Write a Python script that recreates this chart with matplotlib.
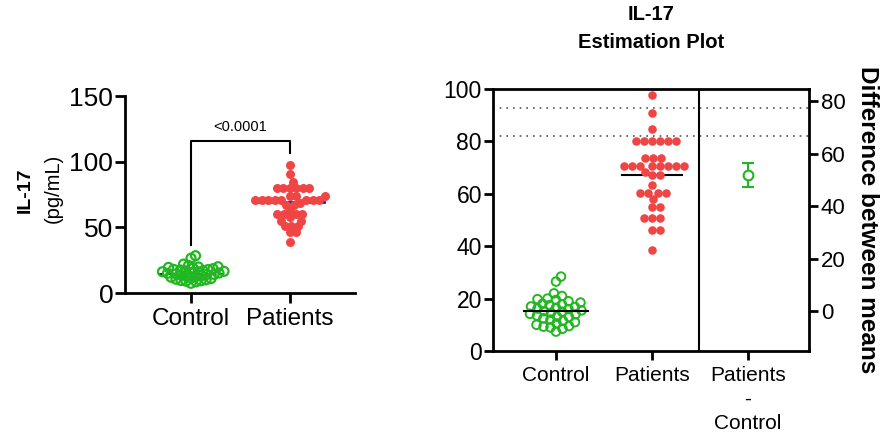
import numpy as np
import matplotlib
matplotlib.use("Agg")
import matplotlib.pyplot as plt

plt.rcParams['font.family'] = ['Liberation Sans', 'DejaVu Sans']

categories = ["Control", "Patients"]
diff_label = "Patients\n-\nControl"

control = [28.4, 26.5, 22.0, 21.0, 20.0, 19.8, 19.5, 19.0, 18.5, 18.0, 17.8,
           17.5, 17.0, 16.8, 16.5, 16.2, 16.0, 15.5, 15.2, 15.0, 14.6, 14.2,
           14.0, 13.5, 13.1, 13.0, 12.5, 12.0, 11.5, 11.0, 10.5, 10.0, 9.5,
           9.3, 9.0, 8.5, 7.4]
patients = [97.7, 90.7, 84.6, 80.3, 80.3, 80.3, 80.3, 80.3, 80.3, 73.5, 73.5,
            73.5, 70.6, 70.6, 70.6, 70.6, 70.6, 70.6, 70.6, 70.6, 68.5, 67.2,
            67.2, 63.4, 60.2, 60.2, 60.2, 60.2, 58.0, 55.1, 55.1, 50.9, 50.9,
            50.9, 46.2, 46.2, 38.5]

control_mean_line = 15.3
patients_mean_line = 67.3
left_blue_line = 69.5
diff_mean = 51.9
diff_ci = (47.3, 56.5)
ref_lines = [92.9, 82.2]
p_text = "<0.0001"

GREEN = "#22b722"
RED = "#f04545"

W, H = 888, 436
fig = plt.figure(figsize=(W / 100, H / 100), dpi=100)


def box(x0, y0, x1, y1):
    return [x0 / W, 1 - y1 / H, (x1 - x0) / W, (y1 - y0) / H]


def swarm(ax, xc, vals, coll):
    """Beeswarm offsets in pixel space, converted back to data coords."""
    vals = np.asarray(vals, float)
    order = np.argsort(vals)
    pix = ax.transData.transform(np.column_stack([np.full(len(vals), xc), vals]))
    cx = pix[0, 0]
    placed = []
    xs = np.zeros(len(vals))
    steps = np.arange(0.5, 200, 0.5)
    cand = np.concatenate([[0], np.ravel(np.column_stack([steps, -steps]))])
    for i in order:
        py = pix[i, 1]
        for off in cand:
            ok = True
            for (qx, qy) in placed:
                if (off - qx) ** 2 + (py - qy) ** 2 < coll ** 2:
                    ok = False
                    break
            if ok:
                break
        placed.append((off, py))
        xs[i] = off
    data = ax.transData.inverted().transform(np.column_stack([cx + xs, pix[:, 1]]))
    return data[:, 0], vals


# ---------------- Left panel ----------------
axL = fig.add_axes(box(125, 96, 355, 293))
axL.set_xlim(-0.667, 1.657)
axL.set_ylim(0, 150)
for s in ["top", "right"]:
    axL.spines[s].set_visible(False)
for s in ["left", "bottom"]:
    axL.spines[s].set_linewidth(2)
axL.set_yticks([0, 50, 100, 150])
axL.set_xticks([0, 1])
axL.set_xticklabels(categories)
axL.tick_params(axis="both", direction="out", length=7, width=2, labelsize=19, pad=1.5)
axL.tick_params(axis="x", labelsize=17.5, pad=4)

axL.plot([-0.32, 0.33], [control_mean_line - 0.8] * 2, color="black", lw=1.2,
         ls=(0, (3, 1.5)), zorder=1)
axL.plot([1 - 0.33, 1 + 0.34], [left_blue_line] * 2, color="#1020d0", lw=2, zorder=1)

xs, ys = swarm(axL, 0, control, 5.0)
axL.scatter(xs, ys, s=42, facecolors="none", edgecolors=GREEN, linewidths=1.6, zorder=3)
xs, ys = swarm(axL, 1, patients, 6.3)
axL.scatter(xs, ys, s=42, color=RED, linewidths=0, zorder=3)

axL.plot([0, 0, 1, 1], [36.6, 115.5, 115.5, 106.6], color="black", lw=1.5, clip_on=False)
axL.text(0.5, 121, p_text, ha="center", va="bottom", fontsize=10.5)

fig.text(25 / W, 1 - 190 / H, "IL-17", rotation=90, ha="center", va="center",
         fontsize=14, fontweight="bold")
fig.text(53 / W, 1 - 188 / H, "(pg/mL)", rotation=90, ha="center", va="center",
         fontsize=14.5)

# ---------------- Right panel ----------------
axR = fig.add_axes(box(493, 89, 809, 351))
axR.set_xlim(-0.656, 2.635)
axR.set_ylim(0, 100)
for s in axR.spines.values():
    s.set_linewidth(2)
axR.set_yticks([0, 20, 40, 60, 80, 100])
axR.set_xticks([0, 1, 2])
axR.set_xticklabels(categories + [diff_label], linespacing=1.35)
axR.tick_params(axis="both", direction="out", length=6.5, width=2, labelsize=16.5, pad=1.5)
axR.tick_params(axis="x", labelsize=15, pad=4)

axR.axvline(1.49, color="black", lw=1.5)
for v in ref_lines:
    axR.axhline(v, color="#555555", lw=1.2, ls=(0, (1, 3)), zorder=1)

axR.plot([-0.33, 0.33], [control_mean_line] * 2, color="black", lw=1.5, zorder=4)
axR.plot([1 - 0.31, 1 + 0.31], [patients_mean_line] * 2, color="black", lw=1.5, zorder=1)

xs, ys = swarm(axR, 0, control, 6.8)
axR.scatter(xs, ys, s=38, facecolors="none", edgecolors=GREEN, linewidths=1.4, zorder=3)
xs, ys = swarm(axR, 1, patients, 7.6)
axR.scatter(xs, ys, s=38, color=RED, linewidths=0, zorder=3)

axT = axR.twinx()
axT.set_ylim(-control_mean_line, 100 - control_mean_line)
axT.set_yticks([0, 20, 40, 60, 80])
axT.tick_params(axis="y", direction="out", length=6.5, width=2, labelsize=16, pad=2)
for s in axT.spines.values():
    s.set_visible(False)
axT.errorbar([2], [diff_mean],
             yerr=[[diff_mean - diff_ci[0]], [diff_ci[1] - diff_mean]],
             fmt="o", mfc="white", mec=GREEN, ecolor=GREEN, ms=7, mew=1.5,
             elinewidth=1.5, capsize=4, capthick=1.5, zorder=4)
axT.set_ylabel("Difference between means", rotation=270, fontsize=17.5,
               fontweight="bold", labelpad=24)

fig.text(651 / W, 1 - 15 / H, "IL-17", ha="center", va="center", fontsize=14.5, fontweight="bold")
fig.text(651 / W, 1 - 43 / H, "Estimation Plot", ha="center", va="center", fontsize=14.5, fontweight="bold")

fig.savefig("out.png", dpi=100)
